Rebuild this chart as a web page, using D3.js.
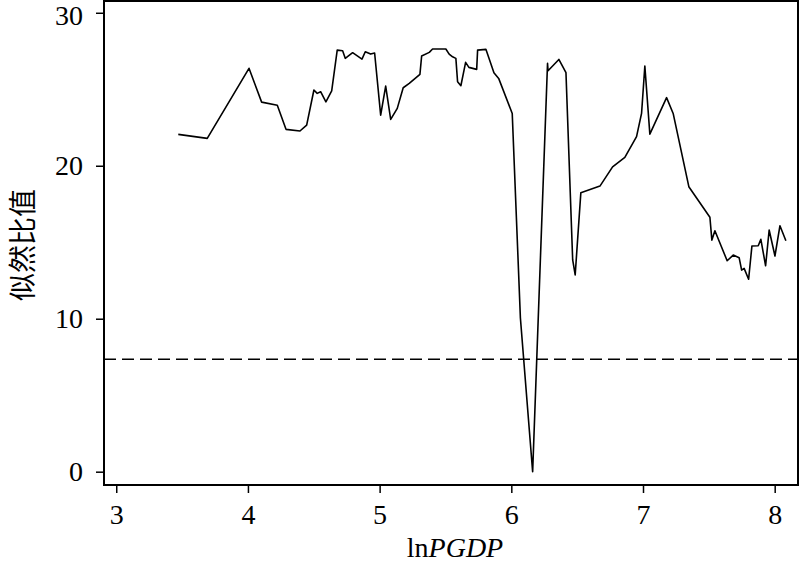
<!DOCTYPE html>
<html>
<head>
<meta charset="utf-8">
<script src="https://cdn.jsdelivr.net/npm/d3@7"></script>
<style>
  html, body { margin: 0; padding: 0; background: #fff; }
  svg { display: block; }
</style>
</head>
<body>
<svg id="chart" width="800" height="568"></svg>
<script>
// Data
const lnPGDP = [3.471, 3.691, 4.008, 4.104, 4.223, 4.289, 4.395, 4.446, 4.501, 4.526,
  4.552, 4.592, 4.636, 4.678, 4.719, 4.739, 4.795, 4.866, 4.891, 4.932,
  4.962, 5.008, 5.046, 5.084, 5.134, 5.179, 5.225, 5.306, 5.319, 5.377,
  5.402, 5.503, 5.528, 5.554, 5.579, 5.592, 5.617, 5.653, 5.678, 5.737,
  5.744, 5.807, 5.868, 5.904, 6.007, 6.069, 6.162, 6.275, 6.279, 6.361,
  6.415, 6.466, 6.485, 6.528, 6.673, 6.769, 6.862, 6.951, 6.989, 7.014,
  7.052, 7.179, 7.229, 7.348, 7.508, 7.523, 7.546, 7.639, 7.685, 7.730,
  7.749, 7.768, 7.802, 7.827, 7.875, 7.895, 7.931, 7.958, 8.002, 8.040, 8.085];
const lrValues = [22.05, 21.79, 26.37, 24.16, 23.95, 22.38, 22.27, 22.66, 24.95, 24.73,
  24.84, 24.18, 24.90, 27.56, 27.52, 27.02, 27.39, 26.97, 27.45, 27.30,
  27.37, 23.31, 25.21, 23.03, 23.75, 25.10, 25.38, 25.97, 27.17, 27.41,
  27.63, 27.63, 27.30, 27.12, 27.02, 25.49, 25.23, 26.76, 26.43, 26.30,
  27.56, 27.61, 26.08, 25.71, 23.42, 10.05, 0.0, 26.69, 26.21, 26.95,
  26.08, 13.84, 12.86, 18.24, 18.67, 19.93, 20.55, 21.90, 23.42, 26.52,
  22.07, 24.45, 23.42, 18.63, 16.63, 15.14, 15.75, 13.79, 14.16, 13.99,
  13.18, 13.29, 12.58, 14.75, 14.77, 15.19, 13.46, 15.80, 14.10, 16.08, 15.10];
const criticalValue = 7.35;
const xTicks = [3, 4, 5, 6, 7, 8];
const yTicks = [0, 10, 20, 30];
const yLabel = "似然比值";

const svg = d3.select("#chart");
const plotL = 104, plotR = 798, plotT = 1, plotB = 485;

const x = d3.scaleLinear().domain([2.907, 8.177]).range([plotL, plotR]);
const y = d3.scaleLinear().domain([-0.87, 30.77]).range([plotB, plotT]);

const serif = "'Liberation Serif', 'Times New Roman', serif";

// Axes
const yAxis = svg.append("g")
  .attr("transform", `translate(${plotL},0)`)
  .call(d3.axisLeft(y).tickValues(yTicks).tickSize(8).tickPadding(13).tickFormat(d3.format("d")));
const xAxis = svg.append("g")
  .attr("transform", `translate(0,${plotB})`)
  .call(d3.axisBottom(x).tickValues(xTicks).tickSize(8).tickPadding(11).tickFormat(d3.format("d")));

[xAxis, yAxis].forEach(g => {
  g.select(".domain").remove();
  g.selectAll(".tick line").attr("stroke", "#000").attr("stroke-width", 1.5);
  g.selectAll(".tick text").attr("fill", "#000")
    .style("font-family", serif).style("font-size", "28px");
});
// keep the top label inside the picture, as in the reference
yAxis.selectAll(".tick text").filter(d => d === 30).attr("dy", "0.42em");

// Critical value dashed line
svg.append("line")
  .attr("x1", plotL).attr("x2", plotR)
  .attr("y1", y(criticalValue)).attr("y2", y(criticalValue))
  .attr("stroke", "#000").attr("stroke-width", 1.5)
  .attr("stroke-dasharray", "12,6");

// LR curve
const pts = lnPGDP.map((v, i) => [v, lrValues[i]]);
svg.append("path")
  .datum(pts)
  .attr("fill", "none")
  .attr("stroke", "#000")
  .attr("stroke-width", 1.6)
  .attr("stroke-linejoin", "round")
  .attr("d", d3.line().x(d => x(d[0])).y(d => y(d[1])));

// Frame
svg.append("rect")
  .attr("x", plotL).attr("y", plotT)
  .attr("width", plotR - plotL).attr("height", plotB - plotT)
  .attr("fill", "none").attr("stroke", "#000").attr("stroke-width", 2);

// Axis titles
const xt = svg.append("text")
  .attr("x", (plotL + plotR) / 2 + 4).attr("y", 557)
  .attr("text-anchor", "middle")
  .style("font-family", serif).style("font-size", "28px");
xt.append("tspan").text("ln");
xt.append("tspan").style("font-style", "italic").text("PGDP");

svg.append("text")
  .attr("transform", `translate(33,245) rotate(-90)`)
  .attr("text-anchor", "middle")
  .style("font-family", "'Noto Sans CJK SC', sans-serif")
  .style("font-size", "28px")
  .text(yLabel);
</script>
</body>
</html>
